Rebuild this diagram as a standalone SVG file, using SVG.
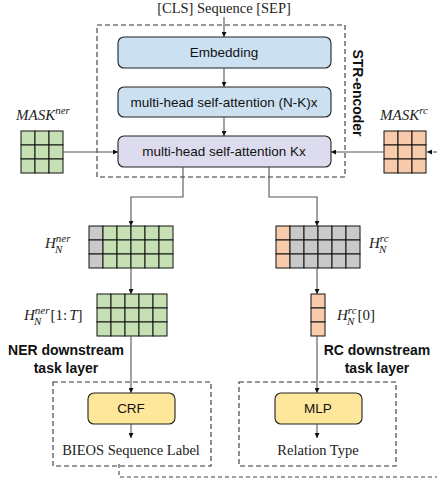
<svg xmlns="http://www.w3.org/2000/svg" width="437" height="482" viewBox="0 0 437 482">
<style>
.bg{fill:#fff}
.dash{fill:none;stroke:#333;stroke-width:1.1;stroke-dasharray:5,3}
.box{stroke:#222;stroke-width:1.1}
.blue{fill:#cbe1f1}
.lav{fill:#dddcee}
.yel{fill:#fee69b}
.g{fill:#c6e0b4;stroke:#111;stroke-width:1}
.o{fill:#f8cbad;stroke:#111;stroke-width:1}
.y{fill:#c9c9c9;stroke:#111;stroke-width:1}
.lbl{font-family:"Liberation Sans",Arial,sans-serif;font-size:13.5px;fill:#111;text-anchor:middle}
.bold{font-family:"Liberation Sans",Arial,sans-serif;font-size:14px;font-weight:bold;fill:#111;text-anchor:middle}
.ser{font-family:"Liberation Serif","Times New Roman",serif;font-size:14.5px;fill:#222;text-anchor:middle}
.math{font-family:"Liberation Serif","Times New Roman",serif;font-style:italic;font-size:15px;fill:#222}
.sm{font-size:11px}
.up{font-family:"Liberation Serif","Times New Roman",serif;font-style:normal;font-size:15px;fill:#222}
.c{fill:none;stroke:#555;stroke-width:1.1}
.cd{fill:none;stroke:#444;stroke-width:1.1;stroke-dasharray:4,3}
</style>
<defs>
<marker id="ah" viewBox="0 0 10 10" refX="10" refY="5" markerWidth="5" markerHeight="5" orient="auto" markerUnits="userSpaceOnUse">
<path d="M0,0 L10,5 L0,10 z" fill="#111"/>
</marker>
</defs>
<rect class="bg" x="0" y="0" width="437" height="482"/>

<g id="encoder-frame">
<rect class="dash" x="97" y="25" width="248" height="152"/>
<text class="bold" transform="translate(358,93) rotate(90)" dominant-baseline="central">STR-encoder</text>
</g>

<g id="input">
<text class="ser" x="224" y="13">[CLS] Sequence [SEP]</text>
</g>

<g id="embedding">
<rect class="box blue" x="118" y="37" width="213" height="31" rx="6"/>
<text class="lbl" x="224" y="57">Embedding</text>
</g>

<g id="mhsa-nk">
<rect class="box blue" x="118" y="87" width="213" height="30" rx="6"/>
<text class="lbl" x="224" y="107">multi-head self-attention  (N-K)x</text>
</g>

<g id="mhsa-k">
<rect class="box lav" x="118" y="136" width="213" height="31" rx="6"/>
<text class="lbl" x="224" y="156">multi-head self-attention  Kx</text>
</g>

<g id="mask-ner">
<text class="math" x="16" y="120">MASK<tspan class="sm" dy="-6">ner</tspan></text>
<rect class="g" x="21" y="131" width="14" height="14"/><rect class="g" x="35" y="131" width="14" height="14"/><rect class="g" x="49" y="131" width="14" height="14"/>
<rect class="g" x="21" y="145" width="14" height="14"/><rect class="g" x="35" y="145" width="14" height="14"/><rect class="g" x="49" y="145" width="14" height="14"/>
<rect class="g" x="21" y="159" width="14" height="14"/><rect class="g" x="35" y="159" width="14" height="14"/><rect class="g" x="49" y="159" width="14" height="14"/>
</g>

<g id="mask-rc">
<text class="math" x="380" y="120">MASK<tspan class="sm" dy="-6">rc</tspan></text>
<rect class="o" x="384" y="131" width="14" height="14"/><rect class="o" x="398" y="131" width="14" height="14"/><rect class="o" x="412" y="131" width="14" height="14"/>
<rect class="o" x="384" y="145" width="14" height="14"/><rect class="o" x="398" y="145" width="14" height="14"/><rect class="o" x="412" y="145" width="14" height="14"/>
<rect class="o" x="384" y="159" width="14" height="14"/><rect class="o" x="398" y="159" width="14" height="14"/><rect class="o" x="412" y="159" width="14" height="14"/>
</g>

<g id="h-ner">
<text class="math" x="45" y="248">H<tspan class="sm" dy="-6">ner</tspan></text>
<text class="math sm" x="55" y="253">N</text>
<rect class="y" x="89" y="226" width="14" height="14"/><rect class="g" x="103" y="226" width="14" height="14"/><rect class="g" x="117" y="226" width="14" height="14"/><rect class="g" x="131" y="226" width="14" height="14"/><rect class="g" x="145" y="226" width="14" height="14"/><rect class="g" x="159" y="226" width="14" height="14"/>
<rect class="y" x="89" y="240" width="14" height="14"/><rect class="g" x="103" y="240" width="14" height="14"/><rect class="g" x="117" y="240" width="14" height="14"/><rect class="g" x="131" y="240" width="14" height="14"/><rect class="g" x="145" y="240" width="14" height="14"/><rect class="g" x="159" y="240" width="14" height="14"/>
<rect class="y" x="89" y="254" width="14" height="14"/><rect class="g" x="103" y="254" width="14" height="14"/><rect class="g" x="117" y="254" width="14" height="14"/><rect class="g" x="131" y="254" width="14" height="14"/><rect class="g" x="145" y="254" width="14" height="14"/><rect class="g" x="159" y="254" width="14" height="14"/>
</g>

<g id="h-rc">
<text class="math" x="369" y="248">H<tspan class="sm" dy="-6">rc</tspan></text>
<text class="math sm" x="379" y="253">N</text>
<rect class="o" x="276" y="226" width="14" height="14"/><rect class="y" x="290" y="226" width="14" height="14"/><rect class="y" x="304" y="226" width="14" height="14"/><rect class="y" x="318" y="226" width="14" height="14"/><rect class="y" x="332" y="226" width="14" height="14"/><rect class="y" x="346" y="226" width="14" height="14"/>
<rect class="o" x="276" y="240" width="14" height="14"/><rect class="y" x="290" y="240" width="14" height="14"/><rect class="y" x="304" y="240" width="14" height="14"/><rect class="y" x="318" y="240" width="14" height="14"/><rect class="y" x="332" y="240" width="14" height="14"/><rect class="y" x="346" y="240" width="14" height="14"/>
<rect class="o" x="276" y="254" width="14" height="14"/><rect class="y" x="290" y="254" width="14" height="14"/><rect class="y" x="304" y="254" width="14" height="14"/><rect class="y" x="318" y="254" width="14" height="14"/><rect class="y" x="332" y="254" width="14" height="14"/><rect class="y" x="346" y="254" width="14" height="14"/>
</g>

<g id="h-ner-1T">
<text class="math" x="24" y="320">H<tspan class="sm" dy="-6">ner</tspan><tspan class="up" dy="6" dx="1">[1:</tspan><tspan dx="2">T</tspan><tspan class="up">]</tspan></text>
<text class="math sm" x="34" y="325">N</text>
<rect class="g" x="97" y="294" width="14" height="14"/><rect class="g" x="111" y="294" width="14" height="14"/><rect class="g" x="125" y="294" width="14" height="14"/><rect class="g" x="139" y="294" width="14" height="14"/><rect class="g" x="153" y="294" width="14" height="14"/>
<rect class="g" x="97" y="308" width="14" height="14"/><rect class="g" x="111" y="308" width="14" height="14"/><rect class="g" x="125" y="308" width="14" height="14"/><rect class="g" x="139" y="308" width="14" height="14"/><rect class="g" x="153" y="308" width="14" height="14"/>
<rect class="g" x="97" y="322" width="14" height="14"/><rect class="g" x="111" y="322" width="14" height="14"/><rect class="g" x="125" y="322" width="14" height="14"/><rect class="g" x="139" y="322" width="14" height="14"/><rect class="g" x="153" y="322" width="14" height="14"/>
</g>

<g id="h-rc-0">
<text class="math" x="337" y="320">H<tspan class="sm" dy="-6">rc</tspan><tspan class="up" dy="6" dx="1">[0]</tspan></text>
<text class="math sm" x="347" y="325">N</text>
<rect class="o" x="311" y="294" width="14" height="14"/>
<rect class="o" x="311" y="308" width="14" height="14"/>
<rect class="o" x="311" y="322" width="14" height="14"/>
</g>

<g id="ner-layer">
<text class="bold" x="66" y="355">NER downstream</text>
<text class="bold" x="66" y="373">task layer</text>
<rect class="dash" x="53" y="382" width="158" height="84"/>
<rect class="box yel" x="88" y="393" width="87" height="31" rx="6"/>
<text class="lbl" x="131" y="413">CRF</text>
<text class="ser" x="131" y="455">BIEOS Sequence Label</text>
</g>

<g id="rc-layer">
<text class="bold" x="377" y="355">RC downstream</text>
<text class="bold" x="377" y="373">task layer</text>
<rect class="dash" x="239" y="382" width="157" height="84"/>
<rect class="box yel" x="275" y="393" width="87" height="31" rx="6"/>
<text class="lbl" x="318" y="413">MLP</text>
<text class="ser" x="318" y="455">Relation Type</text>
</g>

<g id="connectors">
<path class="c" d="M224,17 V37" marker-end="url(#ah)"/>
<path class="c" d="M224,68 V87" marker-end="url(#ah)"/>
<path class="c" d="M224,117 V136" marker-end="url(#ah)"/>
<path class="c" d="M63,152 H118" marker-end="url(#ah)"/>
<path class="c" d="M384,152 H331" marker-end="url(#ah)"/>
<path class="cd" d="M437,152 H427" marker-end="url(#ah)"/>
<path class="c" d="M183,167 V197 H131 V226" marker-end="url(#ah)"/>
<path class="c" d="M269,167 V197 H317 V226" marker-end="url(#ah)"/>
<path class="c" d="M131,268 V294" marker-end="url(#ah)"/>
<path class="c" d="M317,268 V294" marker-end="url(#ah)"/>
<path class="c" d="M131,336 V393" marker-end="url(#ah)"/>
<path class="c" d="M317,336 V393" marker-end="url(#ah)"/>
<path class="c" d="M131,424 V438" marker-end="url(#ah)"/>
<path class="c" d="M317,424 V438" marker-end="url(#ah)"/>
<path class="cd" d="M119,464 V477 H437"/>
</g>
</svg>
